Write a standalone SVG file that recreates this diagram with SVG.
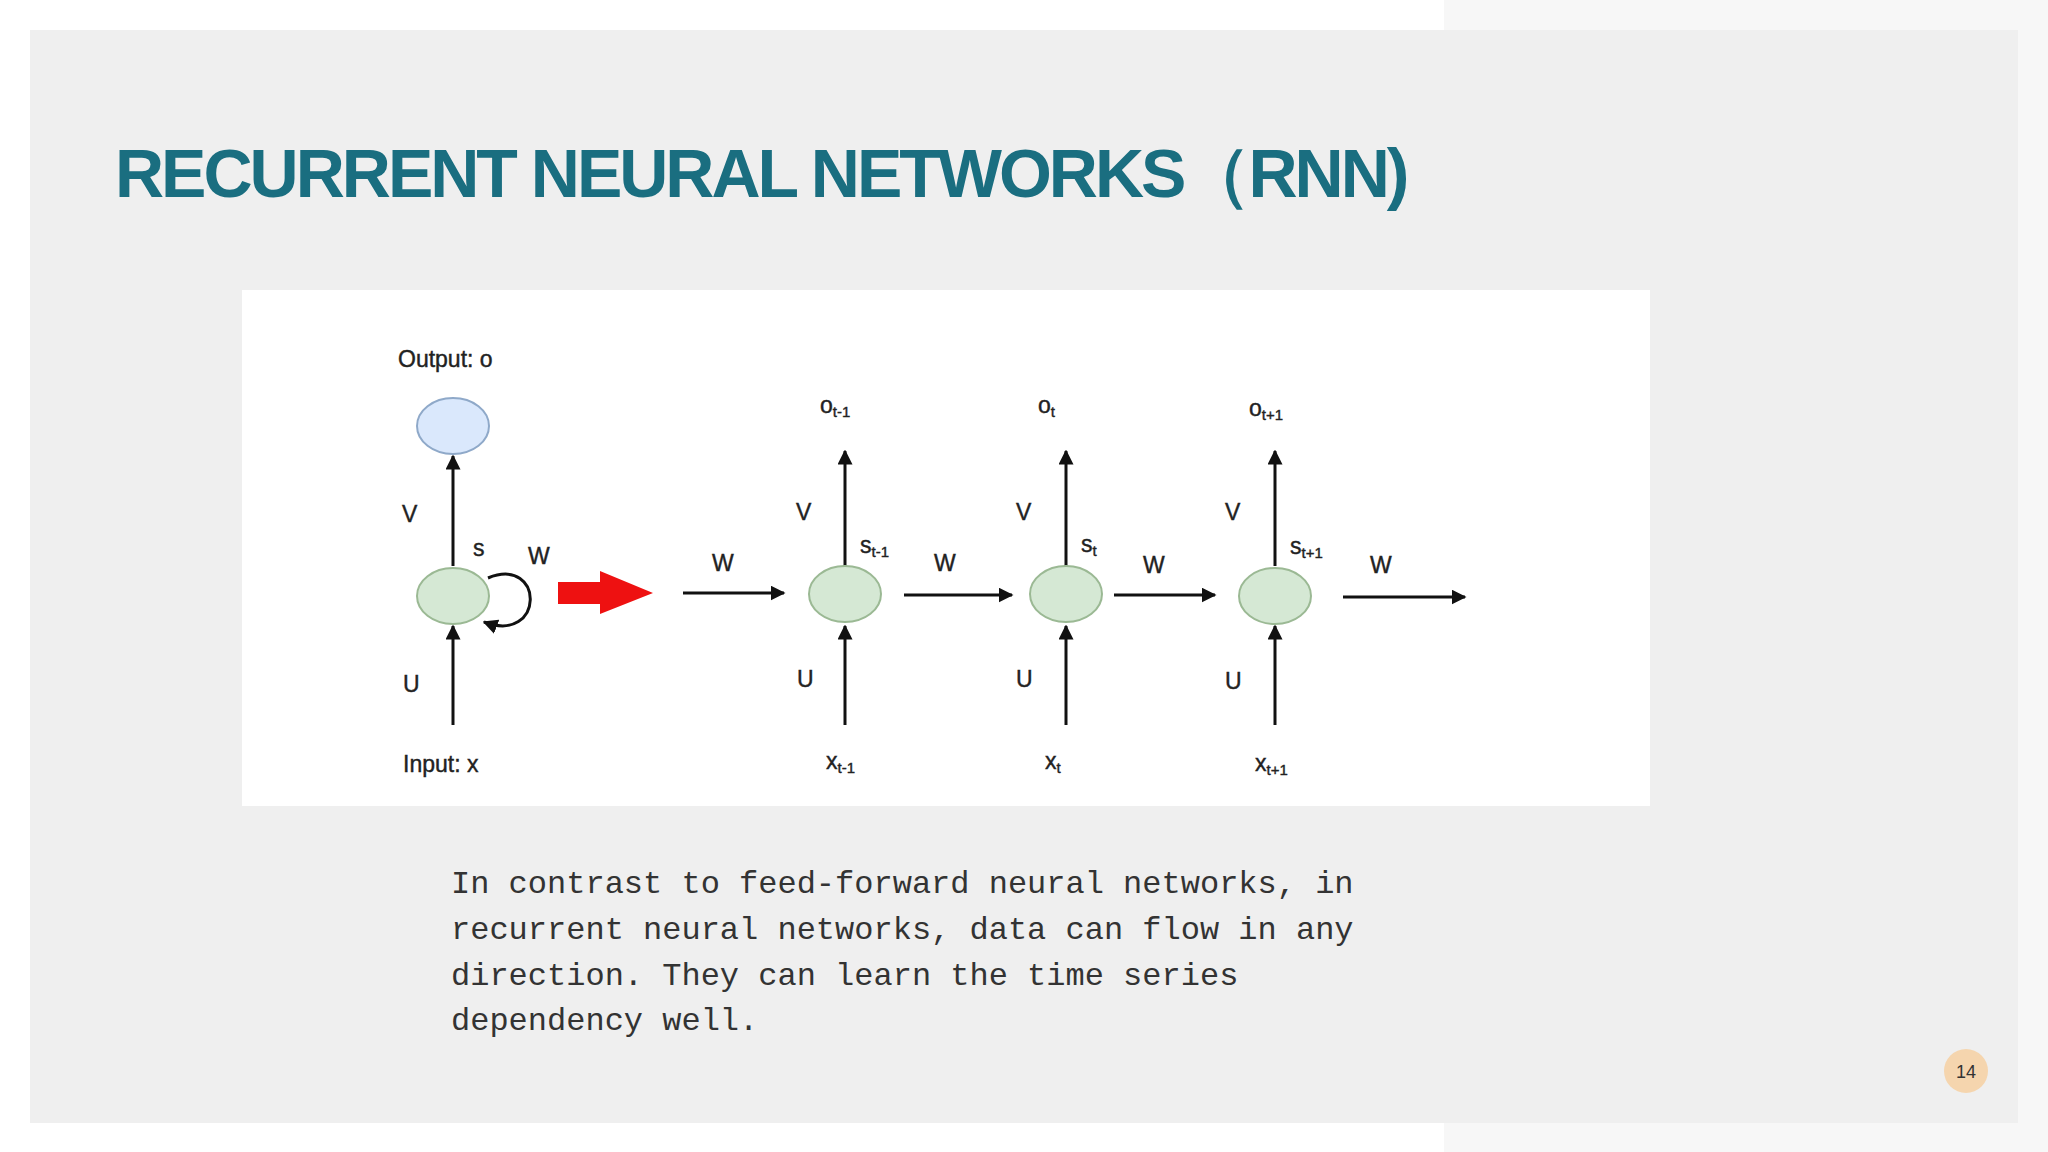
<svg xmlns="http://www.w3.org/2000/svg" width="2048" height="1152" viewBox="0 0 2048 1152">
<style>
.lbl{font-family:"Liberation Sans",Arial,sans-serif;font-size:23px;fill:#222;stroke:#222;stroke-width:0.4}
.sub{font-size:15px}
.ln{stroke:#111;stroke-width:3;fill:none}
.cell{fill:#d5e8d4;stroke:#9bb994;stroke-width:2}
.body{font-family:"Liberation Mono","DejaVu Sans Mono",monospace;font-size:32px;fill:#333}
</style>
<defs>
<marker id="ah" viewBox="0 0 10 10" refX="9" refY="5" markerWidth="5" markerHeight="5" orient="auto"><path d="M0,0 L10,5 L0,10 z" fill="#111"/></marker>
</defs>
<rect width="2048" height="1152" fill="#ffffff"/>
<rect x="1444" y="0" width="604" height="1152" fill="#f7f7f7"/>
<rect x="30" y="30" width="1988" height="1093" fill="#efefef"/>
<text x="115" y="197" font-family="Liberation Sans,Arial,sans-serif" font-weight="bold" font-size="68" fill="#1a6e80" letter-spacing="-3">RECURRENT NEURAL NETWORKS（RNN)</text>
<rect x="242" y="290" width="1408" height="516" fill="#ffffff"/>
<g id="connectors">
<line class="ln" x1="453" y1="725" x2="453" y2="626" marker-end="url(#ah)"/>
<line class="ln" x1="453" y1="566" x2="453" y2="456" marker-end="url(#ah)"/>
<path class="ln" d="M488 578 C545 555,545 645,484 622" marker-end="url(#ah)"/>
<line class="ln" x1="845" y1="725" x2="845" y2="626" marker-end="url(#ah)"/>
<line class="ln" x1="845" y1="566" x2="845" y2="451" marker-end="url(#ah)"/>
<line class="ln" x1="1066" y1="725" x2="1066" y2="626" marker-end="url(#ah)"/>
<line class="ln" x1="1066" y1="566" x2="1066" y2="451" marker-end="url(#ah)"/>
<line class="ln" x1="1275" y1="725" x2="1275" y2="626" marker-end="url(#ah)"/>
<line class="ln" x1="1275" y1="566" x2="1275" y2="451" marker-end="url(#ah)"/>
<line class="ln" x1="683" y1="593" x2="784" y2="593" marker-end="url(#ah)"/>
<line class="ln" x1="904" y1="595" x2="1012" y2="595" marker-end="url(#ah)"/>
<line class="ln" x1="1114" y1="595" x2="1215" y2="595" marker-end="url(#ah)"/>
<line class="ln" x1="1343" y1="597" x2="1465" y2="597" marker-end="url(#ah)"/>
<polygon points="558,582 600,582 600,571 653,593 600,614 600,604 558,604" fill="#ee1111"/>
</g>
<g id="out"><ellipse cx="453" cy="426" rx="36" ry="28" fill="#dae8fc" stroke="#8fa9c9" stroke-width="2"/></g>
<g id="cell0"><ellipse class="cell" cx="453" cy="596" rx="36" ry="28"/></g>
<g id="cell1"><ellipse class="cell" cx="845" cy="594" rx="36" ry="28"/></g>
<g id="cell2"><ellipse class="cell" cx="1066" cy="594" rx="36" ry="28"/></g>
<g id="cell3"><ellipse class="cell" cx="1275" cy="596" rx="36" ry="28"/></g>
<g id="labels">
<text class="lbl" x="398" y="367">Output: o</text>
<text class="lbl" x="402" y="522">V</text>
<text class="lbl" x="403" y="692">U</text>
<text class="lbl" x="403" y="772">Input: x</text>
<text class="lbl" x="473" y="556" font-size="19">s</text>
<text class="lbl" x="528" y="564">W</text>
<text class="lbl" x="712" y="571">W</text>
<text class="lbl" x="934" y="571">W</text>
<text class="lbl" x="1143" y="573">W</text>
<text class="lbl" x="1370" y="573">W</text>
<text class="lbl" x="820" y="413">o<tspan class="sub" dy="4">t-1</tspan></text>
<text class="lbl" x="1038" y="413">o<tspan class="sub" dy="4">t</tspan></text>
<text class="lbl" x="1249" y="416">o<tspan class="sub" dy="4">t+1</tspan></text>
<text class="lbl" x="796" y="520">V</text>
<text class="lbl" x="1016" y="520">V</text>
<text class="lbl" x="1225" y="520">V</text>
<text class="lbl" x="860" y="553">s<tspan class="sub" dy="4">t-1</tspan></text>
<text class="lbl" x="1081" y="552">s<tspan class="sub" dy="4">t</tspan></text>
<text class="lbl" x="1290" y="554">s<tspan class="sub" dy="4">t+1</tspan></text>
<text class="lbl" x="797" y="687">U</text>
<text class="lbl" x="1016" y="687">U</text>
<text class="lbl" x="1225" y="689">U</text>
<text class="lbl" x="826" y="769">x<tspan class="sub" dy="4">t-1</tspan></text>
<text class="lbl" x="1045" y="769">x<tspan class="sub" dy="4">t</tspan></text>
<text class="lbl" x="1255" y="771">x<tspan class="sub" dy="4">t+1</tspan></text>
</g>
<text class="body" x="451" y="893">In contrast to feed-forward neural networks, in</text>
<text class="body" x="451" y="939">recurrent neural networks, data can flow in any</text>
<text class="body" x="451" y="985">direction. They can learn the time series</text>
<text class="body" x="451" y="1030">dependency well.</text>
<g id="page"><circle cx="1966" cy="1071" r="22" fill="#f5d5ae"/><text x="1966" y="1078" text-anchor="middle" font-family="Liberation Sans,Arial,sans-serif" font-size="18" fill="#333">14</text></g>
</svg>
